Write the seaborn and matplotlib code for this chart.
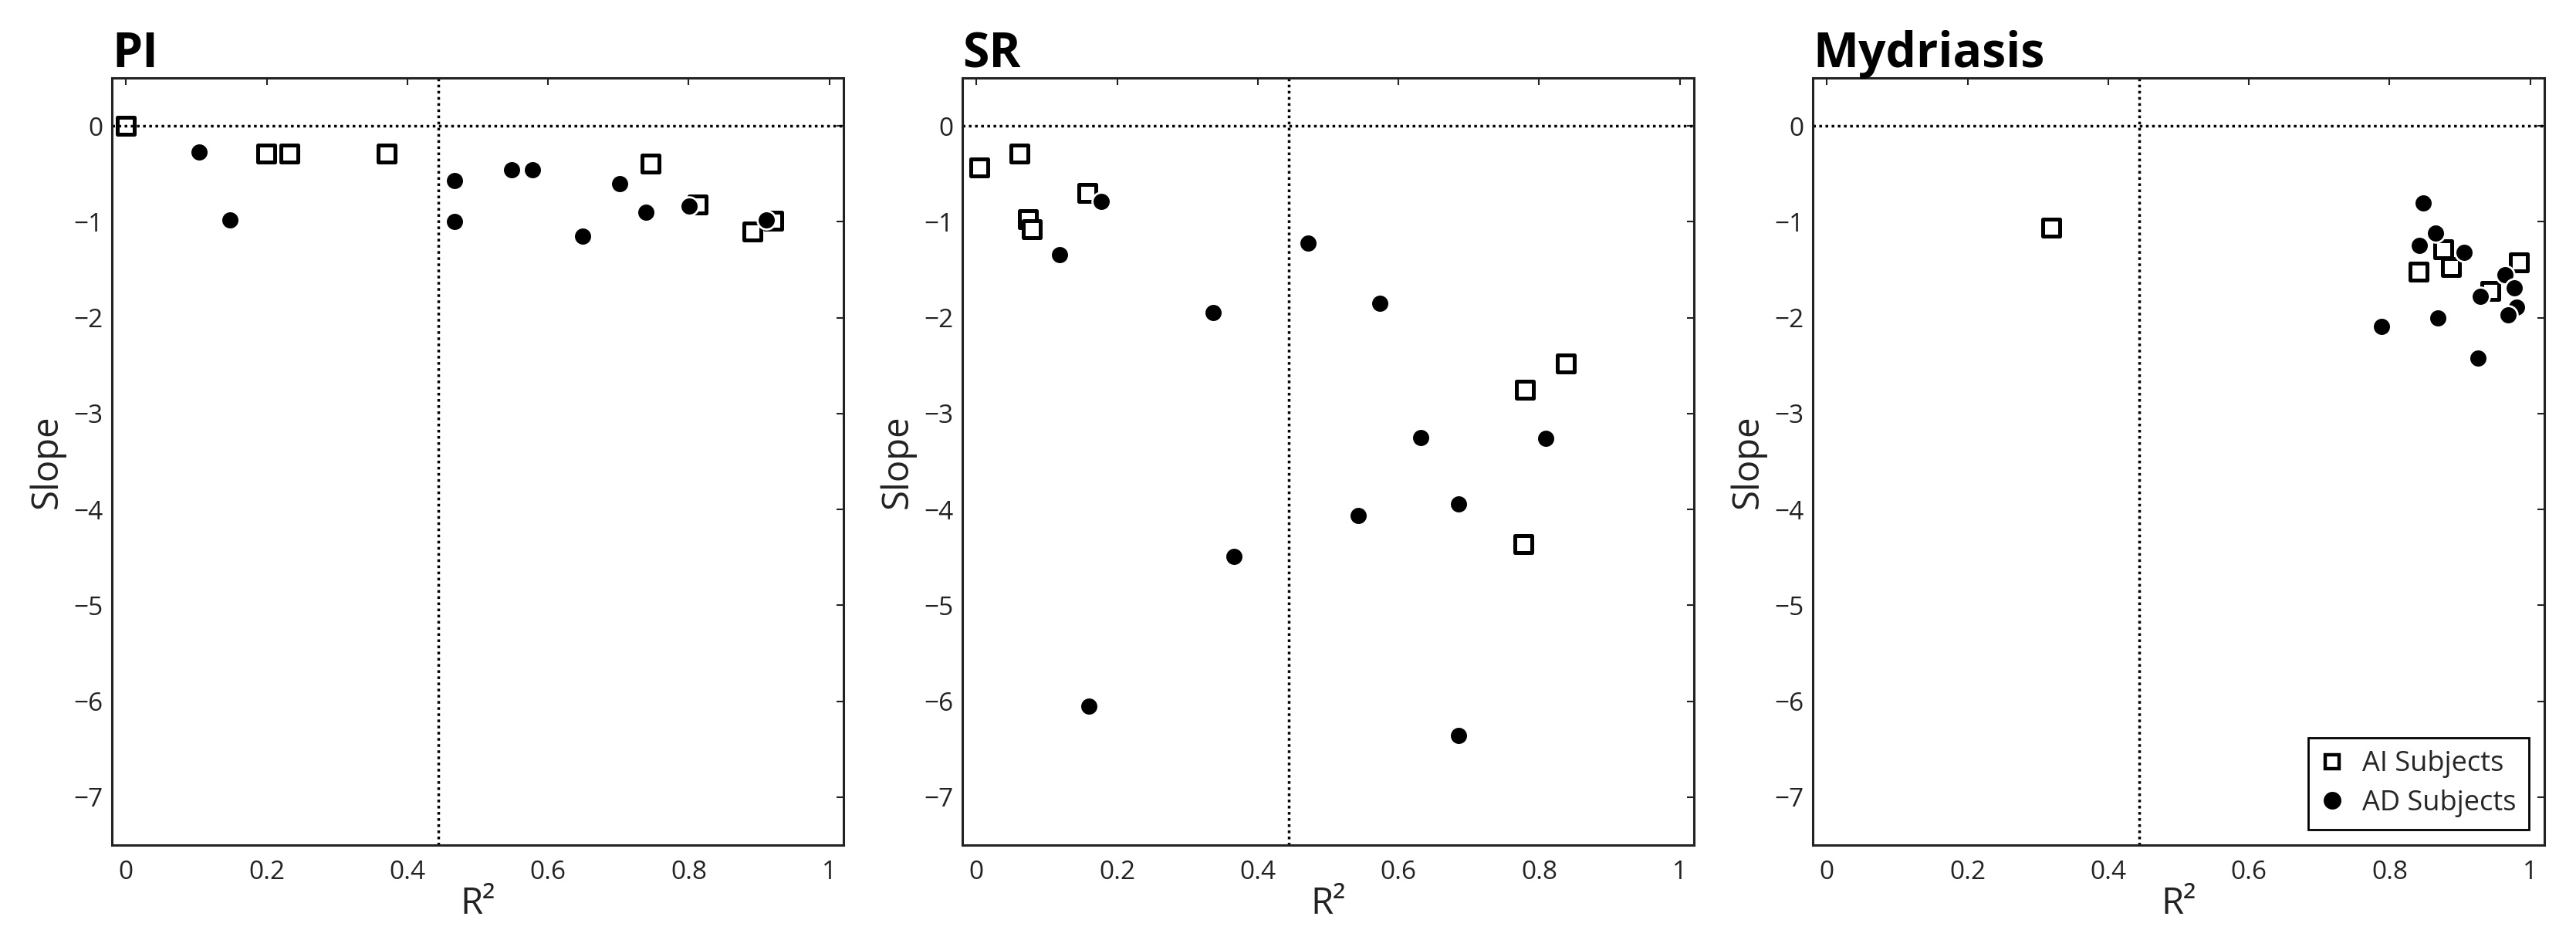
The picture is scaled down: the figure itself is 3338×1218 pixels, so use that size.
import numpy as np
import pandas as pd
import matplotlib
matplotlib.use("Agg")
import matplotlib.pyplot as plt
import seaborn as sns
from matplotlib.lines import Line2D

# ---------------- data ----------------
panel_titles = ["PI", "SR", "Mydriasis"]
group_labels = ["AI Subjects", "AD Subjects"]
x_ticks = [0, 0.2, 0.4, 0.6, 0.8, 1]
x_tick_labels = ["0", "0.2", "0.4", "0.6", "0.8", "1"]
y_ticks = [0, -1, -2, -3, -4, -5, -6, -7]
r2_threshold = 0.444

pi_ai_r2 = [0.000, 0.199, 0.232, 0.371, 0.746, 0.813, 0.890, 0.920]
pi_ai_slope = [0.00, -0.29, -0.29, -0.29, -0.39, -0.82, -1.10, -0.99]
pi_ad_r2 = [0.104, 0.148, 0.467, 0.467, 0.548, 0.578, 0.649, 0.702, 0.739, 0.801, 0.910]
pi_ad_slope = [-0.27, -0.98, -0.57, -1.00, -0.46, -0.46, -1.15, -0.60, -0.90, -0.84, -0.98]

sr_ai_r2 = [0.004, 0.061, 0.073, 0.079, 0.158, 0.780, 0.838, 0.778]
sr_ai_slope = [-0.43, -0.29, -0.97, -1.08, -0.70, -2.75, -2.48, -4.36]
sr_ad_r2 = [0.178, 0.118, 0.336, 0.471, 0.573, 0.632, 0.809, 0.366, 0.160, 0.543, 0.685, 0.685]
sr_ad_slope = [-0.79, -1.34, -1.95, -1.22, -1.85, -3.25, -3.26, -4.49, -6.05, -4.06, -3.94, -6.36]

my_ai_r2 = [0.319, 0.841, 0.887, 0.876, 0.984, 0.943]
my_ai_slope = [-1.06, -1.52, -1.47, -1.29, -1.42, -1.72]
my_ad_r2 = [0.848, 0.865, 0.842, 0.906, 0.964, 0.977, 0.929, 0.980, 0.968, 0.869, 0.789, 0.926]
my_ad_slope = [-0.80, -1.12, -1.25, -1.32, -1.55, -1.69, -1.78, -1.89, -1.97, -2.00, -2.09, -2.42]

panels = [
    (pi_ai_r2, pi_ai_slope, pi_ad_r2, pi_ad_slope),
    (sr_ai_r2, sr_ai_slope, sr_ad_r2, sr_ad_slope),
    (my_ai_r2, my_ai_slope, my_ad_r2, my_ad_slope),
]

# ---------------- style ----------------
sns.set_style("white")
plt.rcParams["font.family"] = ["Open Sans", "DejaVu Sans"]
plt.rcParams["axes.unicode_minus"] = True

W, H = 3338, 1218
fig = plt.figure(figsize=(W / 100, H / 100), dpi=100)
fig.patch.set_facecolor("white")

lefts = [145 / W, 1247 / W, 2349 / W]
ax_w = 948 / W
ax_b = (H - 1095) / H
ax_h = (1095 - 101) / H

spine_col = "#222222"
tick_col = "#222222"
dot_style = (0, (1, 1.3))

for i, (title, (ai_x, ai_y, ad_x, ad_y)) in enumerate(zip(panel_titles, panels)):
    ax = fig.add_axes([lefts[i], ax_b, ax_w, ax_h])
    df = pd.DataFrame({
        "R2": list(ai_x) + list(ad_x),
        "Slope": list(ai_y) + list(ad_y),
        "Group": [group_labels[0]] * len(ai_x) + [group_labels[1]] * len(ad_x),
    })
    sns.scatterplot(data=df[df["Group"] == group_labels[0]], x="R2", y="Slope",
                    marker="s", s=250, color="white", edgecolor="black",
                    linewidth=3.6, ax=ax, legend=False, zorder=2)
    ax.axhline(0, color="black", lw=2.5, linestyle=dot_style, zorder=2.5)
    ax.axvline(r2_threshold, color="black", lw=2.5, linestyle=dot_style, zorder=2.5)
    sns.scatterplot(data=df[df["Group"] == group_labels[1]], x="R2", y="Slope",
                    marker="o", s=292, color="black", edgecolor="white",
                    linewidth=2.0, ax=ax, legend=False, zorder=3)

    ax.set_xlim(-0.02, 1.02)
    ax.set_ylim(-7.5, 0.5)
    ax.set_xticks(x_ticks)
    ax.set_xticklabels(x_tick_labels)
    ax.set_yticks(y_ticks)
    ax.tick_params(axis="both", direction="in", length=6.5, width=1.5,
                   colors=tick_col, labelsize=24, top=True, right=True)
    ax.tick_params(axis="x", pad=14)
    ax.tick_params(axis="y", pad=8)
    for sp in ax.spines.values():
        sp.set_visible(True)
        sp.set_color(spine_col)
        sp.set_linewidth(2.2)
    ax.set_xlabel("R²", fontsize=34, labelpad=0, color="#222222")
    ax.set_ylabel("Slope", fontsize=34, labelpad=8, color="#222222")
    ax.set_title(title, loc="left", fontsize=45, fontweight="bold", pad=10, color="black")
    ax.grid(False)

    if i == 2:
        handles = [
            Line2D([], [], marker="s", linestyle="", markersize=13, markerfacecolor="white",
                   markeredgecolor="black", markeredgewidth=3.2),
            Line2D([], [], marker="o", linestyle="", markersize=16.5, markerfacecolor="black",
                   markeredgecolor="black", markeredgewidth=0),
        ]
        leg = ax.legend(handles, group_labels, loc="lower right", fontsize=26,
                        frameon=True, fancybox=False, edgecolor="black",
                        borderaxespad=0.55, handlelength=0.8, handletextpad=0.7,
                        labelspacing=0.4, borderpad=0.45)
        leg.get_frame().set_linewidth(2.0)
        leg.get_frame().set_facecolor("white")
        leg.get_frame().set_alpha(1)

fig.savefig("out.png", dpi=100, facecolor="white")
